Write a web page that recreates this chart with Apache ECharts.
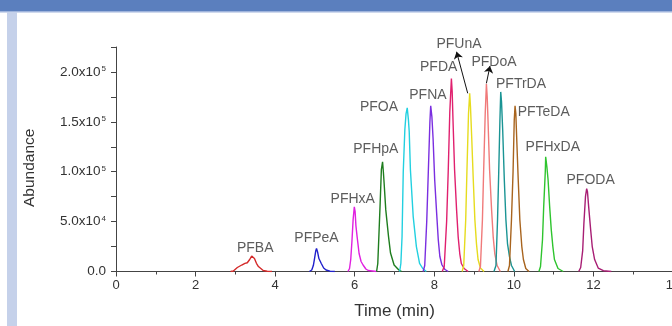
<!DOCTYPE html>
<html>
<head>
<meta charset="utf-8">
<script src="https://cdn.jsdelivr.net/npm/echarts@6/dist/echarts.min.js"></script>
<style>
  html, body { margin: 0; padding: 0; background: #fff; }
  #main { width: 672px; height: 326px; }
</style>
</head>
<body>
<div id="main"></div>
<script>
// peak names in elution order
const peakNames = ['PFBA', 'PFPeA', 'PFHxA', 'PFHpA', 'PFOA', 'PFNA', 'PFDA', 'PFUnA', 'PFDoA', 'PFTrDA', 'PFTeDA', 'PFHxDA', 'PFODA']

// [time (min), abundance]
const PFBA = [[2.88, 0], [2.95, 500], [3.0, 2000], [3.05, 4000], [3.1, 5500], [3.16, 6500], [3.24, 8200], [3.3, 8800], [3.36, 12000], [3.41, 15500], [3.44, 16500], [3.48, 13000], [3.53, 8200], [3.58, 5000], [3.62, 3300], [3.7, 1000], [3.8, 300], [3.92, 0]]
const PFPeA = [[4.86, 0], [4.92, 1500], [4.96, 6000], [4.99, 13000], [5.02, 20500], [5.04, 23200], [5.07, 19000], [5.1, 13000], [5.16, 8000], [5.22, 3500], [5.28, 1500], [5.38, 300], [5.5, 0]]
const PFHxA = [[5.83, 0], [5.87, 3000], [5.9, 12000], [5.93, 30000], [5.96, 52000], [5.99, 64800], [6.01, 60000], [6.03, 46000], [6.06, 35000], [6.11, 18000], [6.16, 10000], [6.21, 6500], [6.28, 2500], [6.34, 1000], [6.55, 0]]
const PFHpA = [[6.55, 0], [6.58, 8000], [6.61, 38000], [6.64, 69000], [6.67, 102000], [6.7, 110000], [6.72, 100000], [6.74, 88000], [6.78, 62000], [6.85, 35000], [6.9, 18500], [6.99, 6500], [7.11, 1500], [7.18, 0]]
const PFOA = [[7.13, 0], [7.16, 8000], [7.19, 35000], [7.22, 100000], [7.26, 142000], [7.29, 158000], [7.32, 164000], [7.35, 152000], [7.37, 140000], [7.4, 102000], [7.47, 55000], [7.55, 25000], [7.63, 8200], [7.71, 3000], [7.8, 0]]
const PFNA = [[7.72, 0], [7.76, 6000], [7.81, 50000], [7.85, 100000], [7.89, 150000], [7.91, 166000], [7.94, 155000], [7.97, 133000], [8.01, 92000], [8.06, 58000], [8.1, 32000], [8.14, 15000], [8.19, 7000], [8.27, 2000], [8.35, 0]]
const PFDA = [[8.2, 0], [8.25, 5000], [8.31, 50000], [8.35, 100000], [8.39, 160000], [8.43, 193500], [8.45, 180000], [8.47, 152000], [8.51, 102000], [8.56, 62000], [8.6, 35000], [8.64, 18000], [8.68, 8000], [8.75, 3000], [8.85, 0]]
const PFUnA = [[8.7, 0], [8.74, 6000], [8.79, 52000], [8.82, 100000], [8.86, 158000], [8.89, 178500], [8.91, 165000], [8.94, 135000], [8.98, 92000], [9.02, 52000], [9.06, 28000], [9.1, 12000], [9.16, 3500], [9.25, 0]]
const PFDoA = [[9.12, 0], [9.16, 5000], [9.21, 52000], [9.24, 100000], [9.28, 158000], [9.31, 188000], [9.33, 175000], [9.35, 152000], [9.39, 102000], [9.44, 62000], [9.48, 35000], [9.52, 18000], [9.58, 6000], [9.66, 0]]
const PFTrDA = [[9.5, 0], [9.55, 6000], [9.59, 52000], [9.62, 100000], [9.65, 152000], [9.67, 180000], [9.69, 170000], [9.72, 141000], [9.76, 92000], [9.8, 52000], [9.84, 28000], [9.89, 15000], [9.94, 6000], [10.02, 0]]
const PFTeDA = [[9.85, 0], [9.89, 6000], [9.94, 52000], [9.98, 100000], [10.01, 152000], [10.03, 166000], [10.05, 158000], [10.07, 135000], [10.11, 92000], [10.15, 52000], [10.2, 25000], [10.24, 12000], [10.3, 3000], [10.38, 0]]
const PFHxDA = [[10.63, 0], [10.67, 5000], [10.72, 32000], [10.75, 65000], [10.79, 100000], [10.8, 115000], [10.83, 105000], [10.86, 92000], [10.9, 65000], [10.94, 42000], [10.98, 25000], [11.02, 12000], [11.11, 3000], [11.24, 0]]
const PFODA = [[11.63, 0], [11.68, 4000], [11.73, 21000], [11.76, 48000], [11.8, 75000], [11.83, 83000], [11.85, 80000], [11.88, 65000], [11.93, 42000], [11.97, 25000], [12.03, 12000], [12.12, 3500], [12.25, 800], [12.45, 0]]
const peakData = [PFBA, PFPeA, PFHxA, PFHpA, PFOA, PFNA, PFDA, PFUnA, PFDoA, PFTrDA, PFTeDA, PFHxDA, PFODA]

// where each peak name sits, [time, abundance]
const labelPos = [[3.5, 23500], [5.04, 33600], [5.95, 72600], [6.53, 122700], [6.61, 164800], [7.84, 176800], [8.11, 204900], [8.62, 228000], [9.5, 210200], [10.18, 187900], [10.75, 159800], [10.98, 124700], [11.93, 91700]]
// arrows pointing from label to peak: [from, to]
const arrows = [
  [[8.84, 178600], [8.56, 220200]],
  [[9.31, 188600], [9.4, 206000]],
]

// y tick labels: mantissa + exponent for 0, 5e4, 1e5, 1.5e5, 2e5
const yTickMantissa = ['0.0', '5.0x10', '1.0x10', '1.5x10', '2.0x10']
const yTickExp = ['', '4', '5', '5', '5']

const colors = ['#d42a2a', '#2020cc', '#e020e0', '#1e7d1e', '#22d0e0', '#7a2ee0', '#e0206e', '#e6dc1e', '#f07a7a', '#1a9494', '#a8641e', '#2ec42e', '#a81e74']
const font = 'Liberation Sans, Arial, sans-serif'

const chart = echarts.init(document.getElementById('main'))

const series = peakData.map((d, i) => ({
  name: peakNames[i],
  type: 'line',
  data: d,
  showSymbol: false,
  symbol: 'none',
  lineStyle: { width: 1.4, color: colors[i] },
  z: 3,
}))

series.push({
  type: 'scatter',
  symbolSize: 0,
  clip: false,
  silent: true,
  label: {
    show: true,
    position: 'inside',
    formatter: (p) => p.name,
    color: '#333',
    fontSize: 14,
    fontFamily: font,
  },
  data: labelPos.map((p, i) => ({ name: peakNames[i], value: p })),
  z: 5,
})

series.push({
  type: 'lines',
  coordinateSystem: 'cartesian2d',
  silent: true,
  symbol: ['none', 'arrow'],
  symbolSize: 7,
  lineStyle: { color: '#111', width: 1, opacity: 1 },
  data: arrows.map((a) => ({ coords: a })),
  z: 6,
})

chart.setOption({
  animation: false,
  backgroundColor: '#fff',
  grid: { left: 116, top: 47, right: -1, bottom: 54.5, containLabel: false, outerBoundsMode: 'none' },
  xAxis: {
    type: 'value',
    min: 0,
    max: 14,
    interval: 2,
    name: 'Time (min)',
    nameLocation: 'middle',
    nameGap: 31,
    nameTextStyle: { fontSize: 17, color: '#333', fontFamily: font },
    axisLine: { show: true, lineStyle: { color: '#444', width: 1 } },
    axisTick: { show: true, length: 5, lineStyle: { color: '#444' } },
    minorTick: { show: true, splitNumber: 2, length: 3, lineStyle: { color: '#444' } },
    splitLine: { show: false },
    axisLabel: { margin: 7, fontSize: 13, color: '#333', fontFamily: font },
  },
  yAxis: {
    type: 'value',
    min: 0,
    max: 225000,
    interval: 25000,
    name: 'Abundance',
    nameLocation: 'middle',
    nameGap: 78,
    nameTextStyle: { fontSize: 15.5, color: '#333', fontFamily: font, padding: [0, 17, 0, 0] },
    axisLine: { show: true, lineStyle: { color: '#444', width: 1 } },
    axisTick: { show: true, length: 5, lineStyle: { color: '#444' } },
    splitLine: { show: false },
    axisLabel: {
      margin: 10,
      formatter: (v) => {
        if (v % 50000 !== 0) return ''
        const i = v / 50000
        if (!yTickExp[i]) return '{b|' + yTickMantissa[i] + '}'
        return '{b|' + yTickMantissa[i] + '}{s|' + yTickExp[i] + '}'
      },
      rich: {
        b: { fontSize: 13.5, color: '#333', fontFamily: font },
        s: { fontSize: 8, color: '#333', fontFamily: font, verticalAlign: 'top', padding: [0, 0, 6, 1] },
      },
    },
  },
  graphic: [
    // header strip and left sidebar of the slide
    { type: 'rect', left: 0, top: 0, shape: { width: 672, height: 11 }, style: { fill: '#5b7fbe' }, silent: true },
    { type: 'rect', left: 0, top: 11, shape: { width: 672, height: 1.5 }, style: { fill: '#9fb4dc' }, silent: true },
    { type: 'rect', left: 7, top: 12, shape: { width: 10, height: 314 }, style: { fill: '#c5d1ea' }, silent: true },
  ],
  series,
})
</script>
</body>
</html>
